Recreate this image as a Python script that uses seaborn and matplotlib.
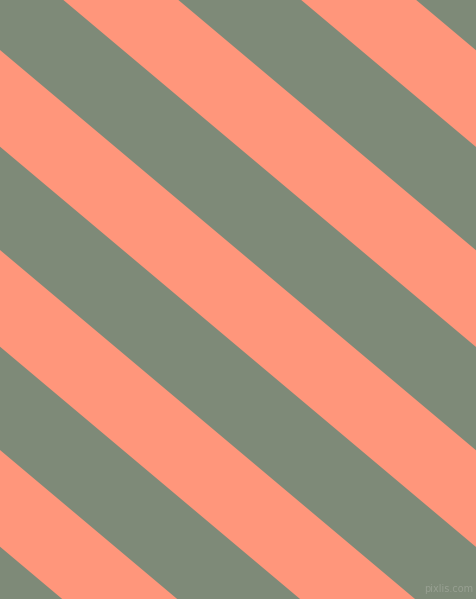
import numpy as np
import seaborn as sns
import matplotlib.pyplot as plt

# stripe colours
grey = "#7e8a78"
salmon = "#ff967b"

# salmon stripes: edges given as y-intercept at x=0, image coords (y down)
slope = 0.8409
salmon_top = [-350, -150, 50, 250, 450]
salmon_bottom = [-253.3, -53.3, 146.7, 346.7, 546.7]

W, H = 476, 599

sns.set_theme(style="white")
fig = plt.figure(figsize=(W / 100, H / 100), dpi=100)
ax = fig.add_axes([0, 0, 1, 1])
ax.set_facecolor(grey)

x = np.linspace(0, W, 200)
for top, bot in zip(salmon_top, salmon_bottom):
    ax.fill_between(x, top + slope * x, bot + slope * x, color=salmon, linewidth=0)

ax.text(449, 589, "pixlis.com", fontsize=7, color="#98a092",
        ha="center", va="center")

ax.set_xlim(0, W)
ax.set_ylim(H, 0)
ax.axis("off")
fig.savefig("out.png", dpi=100, facecolor=grey)
